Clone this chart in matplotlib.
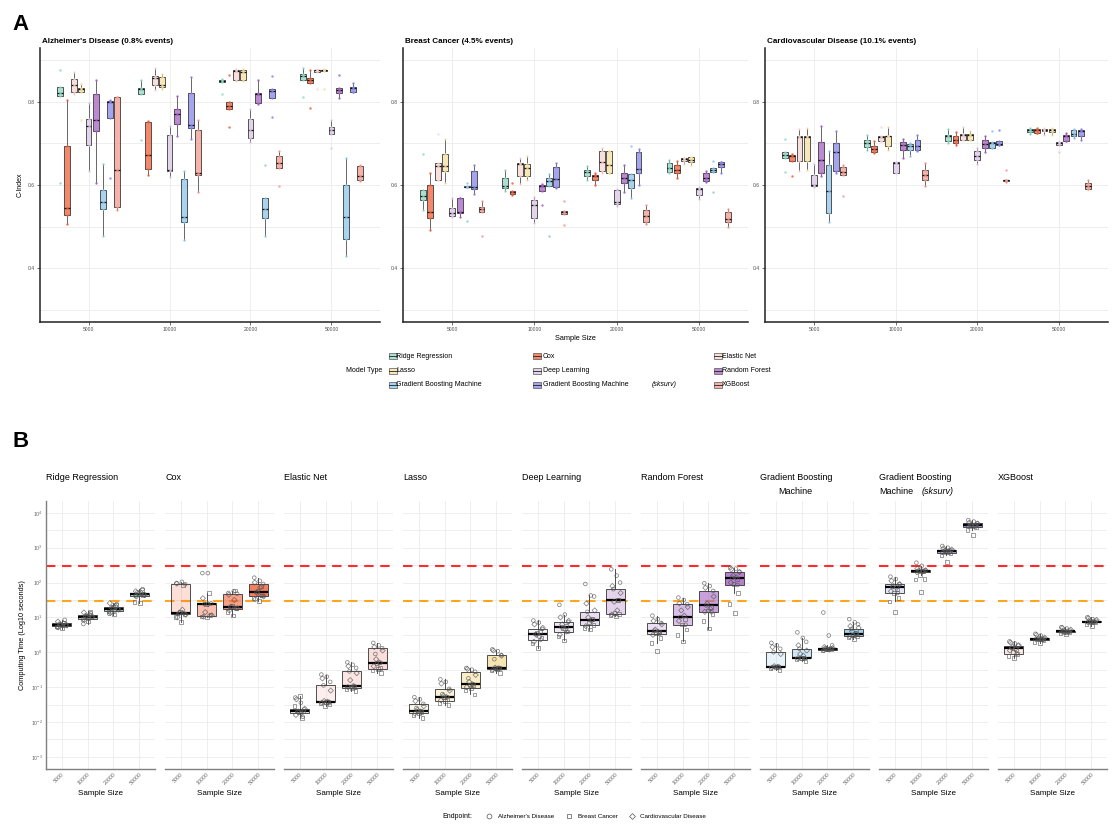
import numpy as np
import matplotlib.pyplot as plt
from matplotlib.colors import to_rgba
from matplotlib.patches import Rectangle
from matplotlib.lines import Line2D

plt.rcParams['font.family'] = ['Liberation Sans', 'DejaVu Sans']
plt.rcParams['mathtext.default'] = 'regular'

# -------------------------------
# data
# -------------------------------
MODELS = ["Ridge Regression", "Cox", "Elastic Net", "Lasso", "Deep Learning",
          "Random Forest", "Gradient Boosting Machine",
          "Gradient Boosting Machine (sksurv)", "XGBoost"]
SIZES = ["5000", "10000", "20000", "50000"]
ENDPOINTS = ["Alzheimer's Disease", "Breast Cancer", "Cardiovascular Disease"]
A_TITLES = ["Alzheimer's Disease (0.8% events)", "Breast Cancer (4.5% events)",
            "Cardiovascular Disease (10.1% events)"]

# C-index, 5 runs per model and sample size
CINDEX_AD = {
    "Ridge Regression": [[0.605, 0.814, 0.822, 0.836, 0.876], [0.709, 0.818, 0.832, 0.834, 0.854], [0.819, 0.848, 0.851, 0.854, 0.856], [0.812, 0.854, 0.863, 0.868, 0.882]],
    "Cox": [[0.507, 0.527, 0.545, 0.693, 0.804], [0.623, 0.639, 0.673, 0.751, 0.753], [0.739, 0.782, 0.791, 0.800, 0.865], [0.786, 0.846, 0.854, 0.858, 0.876]],
    "Elastic Net": [[0.818, 0.823, 0.842, 0.855, 0.871], [0.830, 0.842, 0.858, 0.863, 0.883], [0.850, 0.854, 0.874, 0.878, 0.880], [0.831, 0.872, 0.876, 0.878, 0.880]],
    "Lasso": [[0.757, 0.823, 0.831, 0.834, 0.844], [0.831, 0.836, 0.842, 0.859, 0.868], [0.850, 0.854, 0.871, 0.878, 0.880], [0.831, 0.874, 0.876, 0.878, 0.880]],
    "Deep Learning": [[0.633, 0.696, 0.743, 0.760, 0.798], [0.619, 0.633, 0.635, 0.721, 0.743], [0.703, 0.713, 0.733, 0.759, 0.782], [0.689, 0.723, 0.733, 0.740, 0.756]],
    "Random Forest": [[0.605, 0.729, 0.756, 0.819, 0.854], [0.717, 0.747, 0.771, 0.783, 0.815], [0.796, 0.798, 0.818, 0.822, 0.852], [0.810, 0.822, 0.830, 0.834, 0.864]],
    "Gradient Boosting Machine": [[0.478, 0.541, 0.558, 0.589, 0.651], [0.467, 0.512, 0.524, 0.614, 0.633], [0.476, 0.520, 0.541, 0.569, 0.649], [0.430, 0.471, 0.523, 0.601, 0.665]],
    "Gradient Boosting Machine (sksurv)": [[0.618, 0.761, 0.801, 0.803, 0.805], [0.711, 0.737, 0.744, 0.822, 0.859], [0.764, 0.810, 0.826, 0.831, 0.863], [0.823, 0.823, 0.834, 0.836, 0.845]],
    "XGBoost": [[0.539, 0.546, 0.637, 0.811, 0.812], [0.582, 0.625, 0.628, 0.732, 0.756], [0.597, 0.641, 0.653, 0.669, 0.681], [0.609, 0.613, 0.622, 0.646, 0.648]],
}
CINDEX_BC = {
    "Ridge Regression": [[0.539, 0.565, 0.573, 0.587, 0.675], [0.585, 0.593, 0.598, 0.617, 0.635], [0.613, 0.621, 0.631, 0.637, 0.645], [0.629, 0.631, 0.641, 0.653, 0.661]],
    "Cox": [[0.492, 0.520, 0.535, 0.600, 0.630], [0.575, 0.578, 0.582, 0.585, 0.606], [0.600, 0.613, 0.621, 0.623, 0.629], [0.617, 0.629, 0.637, 0.649, 0.658]],
    "Elastic Net": [[0.613, 0.613, 0.645, 0.653, 0.723], [0.603, 0.622, 0.651, 0.653, 0.665], [0.629, 0.633, 0.655, 0.683, 0.689], [0.651, 0.657, 0.662, 0.665, 0.665]],
    "Lasso": [[0.604, 0.633, 0.645, 0.675, 0.711], [0.613, 0.622, 0.641, 0.650, 0.670], [0.629, 0.629, 0.649, 0.681, 0.683], [0.647, 0.655, 0.661, 0.667, 0.668]],
    "Deep Learning": [[0.524, 0.525, 0.533, 0.545, 0.568], [0.508, 0.520, 0.553, 0.565, 0.571], [0.549, 0.555, 0.558, 0.589, 0.590], [0.567, 0.577, 0.590, 0.593, 0.594]],
    "Random Forest": [[0.524, 0.532, 0.535, 0.568, 0.569], [0.551, 0.586, 0.597, 0.601, 0.603], [0.582, 0.606, 0.617, 0.629, 0.649], [0.607, 0.609, 0.618, 0.629, 0.633]],
    "Gradient Boosting Machine": [[0.514, 0.595, 0.596, 0.597, 0.604], [0.476, 0.597, 0.609, 0.617, 0.627], [0.568, 0.593, 0.613, 0.627, 0.695], [0.582, 0.631, 0.637, 0.641, 0.657]],
    "Gradient Boosting Machine (sksurv)": [[0.578, 0.590, 0.595, 0.633, 0.647], [0.593, 0.595, 0.614, 0.643, 0.653], [0.600, 0.629, 0.639, 0.680, 0.687], [0.630, 0.643, 0.651, 0.655, 0.656]],
    "XGBoost": [[0.478, 0.535, 0.541, 0.547, 0.561], [0.503, 0.529, 0.535, 0.538, 0.562], [0.507, 0.512, 0.526, 0.540, 0.553], [0.498, 0.510, 0.518, 0.535, 0.542]],
}
CINDEX_CVD = {
    "Ridge Regression": [[0.631, 0.665, 0.672, 0.680, 0.711], [0.684, 0.691, 0.700, 0.709, 0.720], [0.701, 0.705, 0.719, 0.721, 0.735], [0.723, 0.727, 0.733, 0.736, 0.737]],
    "Cox": [[0.622, 0.657, 0.669, 0.673, 0.675], [0.677, 0.679, 0.687, 0.693, 0.705], [0.696, 0.700, 0.709, 0.717, 0.727], [0.725, 0.725, 0.732, 0.735, 0.737]],
    "Elastic Net": [[0.633, 0.659, 0.715, 0.719, 0.735], [0.705, 0.705, 0.716, 0.717, 0.739], [0.709, 0.709, 0.721, 0.723, 0.739], [0.721, 0.729, 0.733, 0.735, 0.737]],
    "Lasso": [[0.637, 0.659, 0.715, 0.719, 0.737], [0.685, 0.693, 0.717, 0.719, 0.739], [0.709, 0.709, 0.721, 0.723, 0.731], [0.720, 0.728, 0.732, 0.735, 0.737]],
    "Deep Learning": [[0.596, 0.597, 0.599, 0.624, 0.650], [0.629, 0.629, 0.653, 0.655, 0.655], [0.651, 0.661, 0.669, 0.681, 0.689], [0.679, 0.696, 0.700, 0.703, 0.703]],
    "Random Forest": [[0.622, 0.630, 0.661, 0.703, 0.743], [0.665, 0.684, 0.696, 0.703, 0.712], [0.679, 0.689, 0.699, 0.709, 0.717], [0.705, 0.705, 0.717, 0.720, 0.725]],
    "Gradient Boosting Machine": [[0.510, 0.533, 0.586, 0.647, 0.683], [0.669, 0.685, 0.693, 0.698, 0.701], [0.689, 0.689, 0.700, 0.703, 0.731], [0.713, 0.717, 0.723, 0.733, 0.735]],
    "Gradient Boosting Machine (sksurv)": [[0.629, 0.634, 0.679, 0.700, 0.729], [0.683, 0.684, 0.695, 0.709, 0.721], [0.697, 0.697, 0.699, 0.707, 0.733], [0.709, 0.717, 0.729, 0.733, 0.735]],
    "XGBoost": [[0.574, 0.623, 0.631, 0.643, 0.649], [0.598, 0.613, 0.625, 0.637, 0.654], [0.608, 0.610, 0.611, 0.612, 0.637], [0.591, 0.591, 0.598, 0.604, 0.612]],
}

# computing time, log10 seconds: box stats [whisker low, q1, median, q3, whisker high]
TIME_BOX = {
    "Ridge Regression": [[0.68, 0.743, 0.79, 0.838, 0.93], [0.81, 0.96, 1.02, 1.07, 1.17], [1.08, 1.17, 1.25, 1.30, 1.41], [1.41, 1.62, 1.66, 1.70, 1.81]],
    "Cox": [[0.86, 1.105, 1.12, 1.95, 2.02], [1.0, 1.05, 1.38, 1.40, 1.70], [1.05, 1.25, 1.30, 1.68, 1.77], [1.48, 1.62, 1.72, 1.96, 2.14]],
    "Elastic Net": [[-1.876, -1.75, -1.70, -1.64, -1.257], [-1.54, -1.43, -1.42, -0.943, -0.64], [-1.114, -1.02, -0.97, -0.543, -0.286], [-0.59, -0.476, -0.305, 0.114, 0.267]],
    "Lasso": [[-1.876, -1.752, -1.686, -1.476, -1.286], [-1.524, -1.40, -1.286, -1.048, -0.781], [-1.21, -1.038, -0.924, -0.562, -0.448], [-0.59, -0.476, -0.448, -0.076, 0.076]],
    "Deep Learning": [[0.124, 0.362, 0.524, 0.667, 0.914], [0.343, 0.581, 0.724, 0.867, 1.076], [0.648, 0.79, 0.933, 1.162, 1.63], [1.03, 1.095, 1.486, 1.81, 2.38]],
    "Random Forest": [[0.267, 0.533, 0.619, 0.838, 1.05], [0.314, 0.79, 1.01, 1.381, 1.571], [0.676, 1.152, 1.343, 1.762, 1.98], [1.695, 1.933, 2.143, 2.314, 2.43]],
    "Gradient Boosting Machine": [[-0.495, -0.429, -0.41, 0.0, 0.267], [-0.257, -0.171, -0.171, 0.105, 0.41], [0.05, 0.076, 0.105, 0.124, 0.20], [0.381, 0.457, 0.533, 0.667, 0.857]],
    "Gradient Boosting Machine (sksurv)": [[1.457, 1.695, 1.867, 1.962, 2.171], [2.22, 2.314, 2.343, 2.362, 2.48], [2.78, 2.857, 2.905, 2.933, 3.05], [3.5, 3.6, 3.648, 3.695, 3.79]],
    "XGBoost": [[-0.162, -0.048, 0.124, 0.19, 0.314], [0.267, 0.362, 0.381, 0.40, 0.533], [0.524, 0.581, 0.60, 0.619, 0.724], [0.762, 0.857, 0.876, 0.895, 1.0]],
}
# individual runs, log10 seconds: 5 Alzheimer's, 5 Breast Cancer, 5 Cardiovascular
TIME_PTS = {
    "Ridge Regression": [
        [0.70, 0.76, 0.79, 0.82, 0.93, 0.68, 0.74, 0.78, 0.80, 0.85, 0.72, 0.77, 0.79, 0.83, 0.88],
        [0.81, 0.97, 1.02, 1.05, 1.12, 0.88, 0.96, 1.00, 1.04, 1.17, 0.93, 1.01, 1.03, 1.08, 1.14],
        [1.10, 1.18, 1.24, 1.28, 1.38, 1.08, 1.17, 1.25, 1.30, 1.35, 1.13, 1.22, 1.26, 1.32, 1.41],
        [1.62, 1.65, 1.67, 1.72, 1.81, 1.41, 1.45, 1.63, 1.66, 1.78, 1.60, 1.64, 1.68, 1.70, 1.75]],
    "Cox": [
        [1.98, 2.02, 1.95, 1.10, 1.12, 0.86, 1.02, 1.10, 1.15, 1.93, 1.00, 1.08, 1.13, 1.22, 1.97],
        [2.27, 2.27, 1.40, 1.38, 1.05, 1.00, 1.03, 1.08, 1.39, 1.70, 1.02, 1.06, 1.15, 1.38, 1.55],
        [1.70, 1.75, 1.68, 1.30, 1.25, 1.05, 1.15, 1.27, 1.32, 1.77, 1.20, 1.26, 1.31, 1.50, 1.65],
        [2.14, 2.05, 1.96, 1.72, 1.62, 1.48, 1.55, 1.63, 1.75, 1.90, 1.52, 1.60, 1.70, 1.85, 2.00]],
    "Elastic Net": [
        [-1.30, -1.45, -1.64, -1.70, -1.85, -1.26, -1.55, -1.68, -1.72, -1.88, -1.35, -1.62, -1.70, -1.75, -1.80],
        [-0.64, -0.70, -0.85, -0.95, -1.42, -1.43, -1.45, -1.50, -1.54, -1.42, -0.75, -1.10, -1.40, -1.42, -1.45],
        [-0.29, -0.36, -0.45, -0.55, -0.97, -1.02, -1.05, -1.11, -0.98, -0.99, -0.40, -0.60, -0.80, -0.97, -1.00],
        [0.27, 0.20, 0.12, -0.05, -0.30, -0.48, -0.52, -0.59, -0.31, -0.45, 0.15, 0.05, -0.20, -0.30, -0.40]],
    "Lasso": [
        [-1.29, -1.35, -1.48, -1.60, -1.69, -1.75, -1.80, -1.88, -1.69, -1.72, -1.40, -1.55, -1.65, -1.70, -1.76],
        [-0.78, -0.85, -1.05, -1.20, -1.29, -1.40, -1.45, -1.52, -1.30, -1.35, -0.90, -1.10, -1.25, -1.28, -1.38],
        [-0.45, -0.50, -0.56, -0.75, -0.92, -1.04, -1.10, -1.21, -0.93, -0.95, -0.48, -0.65, -0.85, -0.92, -1.00],
        [0.08, 0.03, -0.08, -0.20, -0.45, -0.48, -0.52, -0.59, -0.45, -0.46, 0.05, -0.10, -0.44, -0.46, -0.50]],
    "Deep Learning": [
        [0.91, 0.85, 0.67, 0.52, 0.36, 0.12, 0.25, 0.40, 0.55, 0.60, 0.80, 0.70, 0.50, 0.45, 0.30],
        [1.36, 1.08, 0.87, 0.72, 0.58, 0.34, 0.45, 0.60, 0.70, 0.75, 1.00, 0.90, 0.80, 0.65, 0.50],
        [1.96, 1.63, 1.60, 1.16, 0.93, 0.65, 0.70, 0.79, 0.85, 0.95, 1.40, 1.20, 1.00, 0.90, 0.75],
        [2.38, 2.20, 2.00, 1.81, 1.49, 1.03, 1.06, 1.10, 1.12, 1.50, 1.90, 1.70, 1.45, 1.20, 1.08]],
    "Random Forest": [
        [1.05, 0.95, 0.84, 0.62, 0.53, 0.03, 0.27, 0.40, 0.55, 0.60, 0.90, 0.80, 0.65, 0.58, 0.50],
        [1.57, 1.50, 1.38, 1.01, 0.79, 0.31, 0.50, 0.65, 0.80, 0.95, 1.40, 1.30, 1.20, 1.05, 0.90],
        [1.98, 1.90, 1.76, 1.34, 1.15, 0.68, 0.90, 1.10, 1.20, 1.30, 1.85, 1.60, 1.40, 1.25, 1.16],
        [2.43, 2.40, 2.31, 2.14, 1.93, 1.12, 1.39, 1.70, 1.95, 2.10, 2.38, 2.30, 2.20, 2.15, 2.00]],
    "Gradient Boosting Machine": [
        [0.27, 0.20, 0.10, 0.00, -0.41, -0.43, -0.45, -0.50, -0.41, -0.42, 0.15, -0.05, -0.40, -0.42, -0.44],
        [0.57, 0.41, 0.30, 0.10, -0.17, -0.17, -0.20, -0.26, -0.17, -0.18, 0.20, 0.05, -0.05, -0.10, -0.17],
        [1.14, 0.48, 0.20, 0.12, 0.11, 0.08, 0.05, 0.10, 0.09, 0.11, 0.15, 0.12, 0.10, 0.08, 0.06],
        [0.95, 0.86, 0.80, 0.67, 0.53, 0.38, 0.42, 0.46, 0.50, 0.55, 0.75, 0.70, 0.60, 0.52, 0.45]],
    "Gradient Boosting Machine (sksurv)": [
        [2.17, 2.10, 1.96, 1.87, 1.70, 1.16, 1.46, 1.55, 1.70, 1.80, 2.05, 1.95, 1.90, 1.85, 1.75],
        [2.57, 2.48, 2.36, 2.34, 2.31, 1.73, 2.09, 2.10, 2.22, 2.33, 2.40, 2.35, 2.34, 2.32, 2.30],
        [3.05, 3.00, 2.93, 2.91, 2.86, 2.59, 2.78, 2.85, 2.88, 2.90, 2.98, 2.95, 2.92, 2.90, 2.87],
        [3.79, 3.75, 3.70, 3.65, 3.60, 3.36, 3.50, 3.58, 3.62, 3.64, 3.72, 3.69, 3.66, 3.63, 3.61]],
    "XGBoost": [
        [0.31, 0.25, 0.19, 0.12, -0.05, -0.16, -0.10, -0.05, 0.00, 0.10, 0.28, 0.20, 0.15, 0.10, 0.05],
        [0.53, 0.48, 0.40, 0.38, 0.36, 0.27, 0.30, 0.36, 0.37, 0.38, 0.50, 0.42, 0.39, 0.38, 0.37],
        [0.72, 0.68, 0.62, 0.60, 0.58, 0.52, 0.56, 0.58, 0.59, 0.60, 0.70, 0.65, 0.61, 0.60, 0.59],
        [1.00, 0.95, 0.90, 0.88, 0.86, 0.76, 0.80, 0.85, 0.87, 0.88, 0.98, 0.93, 0.89, 0.88, 0.86]],
}
THRESH_RED = 300    # seconds
THRESH_ORANGE = 30  # seconds

# -------------------------------
# style
# -------------------------------
COLORS = ["#8fd8c4", "#f0603a", "#f9d6d2", "#f6e0a0", "#dcc8e6",
          "#a463c4", "#8cc6ea", "#8686ea", "#f29a8e"]
B_ALPHA = [0.2, 0.4, 0.6, 0.8]
JITTER = [-0.16, 0.05, 0.18, -0.08, 0.12, 0.02, -0.19, 0.15, -0.03, 0.09,
          -0.12, 0.2, -0.05, 0.07, -0.14]
MARKERS = ['o', 's', 'D']
GRID = '#ebebeb'

W, H = 1113, 827
fig = plt.figure(figsize=(W / 100, H / 100), dpi=100)


def fx(px):
    return px / W


def fy(py):
    return 1 - py / H


# -------------------------------
# A. C-index by sample size
# -------------------------------
a_edges = [(40, 380), (403, 748), (765, 1108)]
for k, data in enumerate([CINDEX_AD, CINDEX_BC, CINDEX_CVD]):
    x0, x1 = a_edges[k]
    ax = fig.add_axes([fx(x0), fy(322), (x1 - x0) / W, 274 / H])
    for m, model in enumerate(MODELS):
        vals = data[model]
        pos = np.arange(4) + (m - 4) * 0.089
        ax.boxplot(vals, positions=pos, widths=0.072, patch_artist=True,
                   showfliers=False, showcaps=False, manage_ticks=False,
                   boxprops=dict(facecolor=to_rgba(COLORS[m], 0.75),
                                 edgecolor='#3a3a3a', linewidth=0.6),
                   medianprops=dict(color='#111111', linewidth=0.9),
                   whiskerprops=dict(color='#666666', linewidth=0.7))
        for g in range(4):
            ax.scatter([pos[g]] * len(vals[g]), vals[g], s=3, color=COLORS[m],
                       alpha=0.85, linewidths=0, zorder=3)
    ax.set_xlim(-0.6, 3.6)
    ax.set_ylim(0.27, 0.93)
    ax.set_xticks(range(4))
    ax.set_xticklabels(SIZES)
    ax.set_yticks([0.4, 0.6, 0.8])
    ax.set_yticks([0.3, 0.5, 0.7, 0.9], minor=True)
    ax.grid(which='both', color=GRID, linewidth=0.6)
    ax.set_axisbelow(True)
    for s in ['top', 'right']:
        ax.spines[s].set_visible(False)
    for s in ['left', 'bottom']:
        ax.spines[s].set_linewidth(1.1)
        ax.spines[s].set_color('#222222')
    ax.tick_params(labelsize=3.6, labelcolor='#4d4d4d', length=2, width=0.5,
                   pad=1.5, color='#333333')
    ax.tick_params(which='minor', length=0)
    ax.text(0.005, 1.012, A_TITLES[k], transform=ax.transAxes,
            fontsize=5.8, fontweight='bold', va='bottom', ha='left')
    if k == 0:
        ax.set_ylabel("C-Index", fontsize=5, labelpad=3)
    if k == 1:
        ax.set_xlabel("Sample Size", fontsize=5.3, labelpad=2)

fig.text(fx(12), fy(30), "A", fontsize=16, fontweight='bold', va='baseline')

# legend of model types
fig.text(fx(346), fy(371), "Model Type", fontsize=5, va='center')
key_cols = [(389, 396), (533, 543), (714, 722)]
key_rows = [356, 371, 385]
leg_names = ["Ridge Regression", "Cox", "Elastic Net", "Lasso", "Deep Learning",
             "Random Forest", "Gradient Boosting Machine",
             "Gradient Boosting Machine", "XGBoost"]
for m in range(len(MODELS)):
    r, c = divmod(m, 3)
    kx, tx = key_cols[c]
    ky = key_rows[r]
    fig.add_artist(Rectangle((fx(kx), fy(ky + 3)), 8 / W, 6 / H,
                             transform=fig.transFigure,
                             facecolor=to_rgba(COLORS[m], 0.75),
                             edgecolor='#555555', linewidth=0.5))
    fig.add_artist(Line2D([fx(kx), fx(kx + 8)], [fy(ky), fy(ky)],
                          transform=fig.transFigure, color='#222222', lw=0.6))
    fig.text(fx(tx), fy(ky), leg_names[m], fontsize=5, va='center')
fig.text(fx(652), fy(385), "(sksurv)", fontsize=5, va='center', style='italic')

# -------------------------------
# B. computing time by sample size
# -------------------------------
b_left = [46, 165, 284, 403, 522, 641, 760, 879, 998]
ROW1 = 1 + 24 / 268   # first title line, axes fraction
ROW2 = 1 + 10 / 268   # second title line
for i, model in enumerate(MODELS):
    ax = fig.add_axes([fx(b_left[i]), fy(769), 109 / W, 268 / H])
    stats = []
    for g in range(4):
        lo, q1, med, q3, hi = TIME_BOX[model][g]
        stats.append(dict(whislo=lo, q1=q1, med=med, q3=q3, whishi=hi, fliers=[]))
    bp = ax.bxp(stats, positions=range(4), widths=0.75, patch_artist=True,
                showcaps=False, showfliers=False, manage_ticks=False,
                boxprops=dict(edgecolor='#333333', linewidth=0.6),
                medianprops=dict(color='black', linewidth=1.6),
                whiskerprops=dict(color='#333333', linewidth=0.6))
    for g, box in enumerate(bp['boxes']):
        box.set_facecolor(to_rgba(COLORS[i], B_ALPHA[g]))
    for g in range(4):
        pts = TIME_PTS[model][g]
        for e in range(3):
            ys = pts[5 * e:5 * e + 5]
            xs = g + np.array(JITTER[5 * e:5 * e + 5])
            ax.scatter(xs, ys, marker=MARKERS[e], s=7, facecolors='none',
                       edgecolors='#555555', linewidths=0.5, alpha=0.8, zorder=4)
    ax.axhline(np.log10(THRESH_RED), color='#ff2b2b', lw=1.5,
               ls=(0, (4.5, 3.2)), zorder=1.5)
    ax.axhline(np.log10(THRESH_ORANGE), color='#ffa51f', lw=1.5,
               ls=(0, (4.5, 3.2)), zorder=1.5)
    ax.set_xlim(-0.6, 3.6)
    ax.set_ylim(-3.35, 4.34)
    ax.set_xticks(range(4))
    ax.set_xticklabels(SIZES, rotation=45, ha='right', rotation_mode='anchor')
    ax.set_yticks(range(-3, 5))
    ax.set_yticks(np.arange(-2.5, 4.5, 1), minor=True)
    ax.grid(which='both', color=GRID, linewidth=0.6)
    ax.set_axisbelow(True)
    for s in ['top', 'right', 'left']:
        ax.spines[s].set_visible(False)
    ax.spines['bottom'].set_color('#7f7f7f')
    ax.spines['bottom'].set_linewidth(1.0)
    ax.tick_params(labelsize=3.8, labelcolor='#666666', length=0, pad=2)
    ax.tick_params(which='minor', length=0)
    if i == 0:
        ax.spines['left'].set_visible(True)
        ax.spines['left'].set_color('#7f7f7f')
        ax.spines['left'].set_linewidth(1.0)
        ax.set_yticklabels([rf'$10^{{{k}}}$' for k in range(-3, 5)])
        ax.set_ylabel("Computing Time (Log10 seconds)", fontsize=5.3, labelpad=4)
    else:
        ax.set_yticklabels([])
    ax.set_xlabel("Sample Size", fontsize=5.8, labelpad=3)

    # facet titles
    if model == "Gradient Boosting Machine":
        ax.text(0.0, ROW1, "Gradient Boosting", transform=ax.transAxes,
                fontsize=6.5, ha='left', va='center')
        ax.text(0.32, ROW2, "Machine", transform=ax.transAxes,
                fontsize=6.5, ha='center', va='center')
    elif model == "Gradient Boosting Machine (sksurv)":
        ax.text(0.0, ROW1, "Gradient Boosting", transform=ax.transAxes,
                fontsize=6.5, ha='left', va='center')
        ax.text(0.0, ROW2, "Machine", transform=ax.transAxes,
                fontsize=6.5, ha='left', va='center')
        ax.text(0.395, ROW2, "(sksurv)", transform=ax.transAxes,
                fontsize=6.5, ha='left', va='center', style='italic')
    else:
        ax.text(0.0, ROW1, model, transform=ax.transAxes,
                fontsize=6.5, ha='left', va='center')

fig.text(fx(13), fy(447), "B", fontsize=16, fontweight='bold', va='baseline')

# endpoint legend
fig.text(fx(442), fy(816), "Endpoint:", fontsize=5, va='center')
leg_x = [(489, 498), (569, 578), (632, 640)]
for e, name in enumerate(ENDPOINTS):
    mx, tx = leg_x[e]
    fig.add_artist(Line2D([fx(mx)], [fy(816)], transform=fig.transFigure,
                          marker=MARKERS[e], markersize=3.5 if e != 2 else 3,
                          markerfacecolor='none', markeredgecolor='#555555',
                          markeredgewidth=0.5, linestyle='none'))
    fig.text(fx(tx), fy(816), name, fontsize=4.5, va='center')

plt.savefig("out.png", dpi=100)
